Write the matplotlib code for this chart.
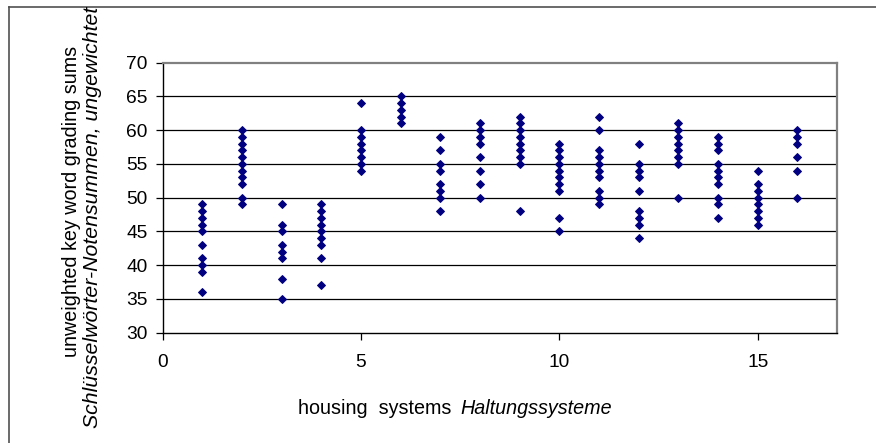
import matplotlib
matplotlib.use("Agg")
import matplotlib.pyplot as plt
from matplotlib.lines import Line2D
from matplotlib.offsetbox import TextArea, HPacker, AnnotationBbox

plt.rcParams['font.family'] = ['Liberation Sans', 'DejaVu Sans']

# housing system number -> grading sums observed
systems = list(range(1, 17))
sums = {
    1: [49, 48, 47, 46, 45, 43, 41, 40, 39, 36],
    2: [60, 59, 58, 57, 56, 55, 54, 53, 52, 50, 49],
    3: [49, 46, 45, 43, 42, 41, 38, 35],
    4: [49, 48, 47, 46, 45, 44, 43, 41, 37],
    5: [64, 60, 59, 58, 57, 56, 55, 54],
    6: [65, 64, 63, 62, 61],
    7: [59, 57, 55, 54, 52, 51, 50, 48],
    8: [61, 60, 59, 58, 56, 54, 52, 50],
    9: [62, 61, 60, 59, 58, 57, 56, 55, 48],
    10: [58, 57, 56, 55, 54, 53, 52, 51, 47, 45],
    11: [62, 60, 57, 56, 55, 54, 53, 51, 50, 49],
    12: [58, 55, 54, 53, 51, 48, 47, 46, 44],
    13: [61, 60, 59, 58, 57, 56, 55, 50],
    14: [59, 58, 57, 55, 54, 53, 52, 50, 49, 47],
    15: [54, 52, 51, 50, 49, 48, 47, 46],
    16: [60, 59, 58, 56, 54, 50],
}
x_ticks = [0, 5, 10, 15]
y_ticks = [30, 35, 40, 45, 50, 55, 60, 65, 70]

xs = [s for s in systems for _ in sums[s]]
ys = [v for s in systems for v in sums[s]]

W, H = 876, 443
fig = plt.figure(figsize=(W / 100, H / 100), dpi=100)
L, R, B, T = 162.7, 837, 332.7, 62.7
ax = fig.add_axes([L / W, (H - B) / H, (R - L) / W, (B - T) / H])

ax.set_xlim(0, 17)
ax.set_ylim(30, 70)
ax.set_xticks(x_ticks)
ax.set_yticks(y_ticks)
for y in y_ticks[1:-1]:
    ax.axhline(y, color='black', lw=0.9, zorder=1)

ax.plot(xs, ys, linestyle='none', marker='D', ms=3.7, mew=0.7,
        color='#000080', mec='#000080', zorder=3, clip_on=False)

for side in ['left', 'bottom']:
    ax.spines[side].set_color('black')
    ax.spines[side].set_linewidth(1.0)
for side in ['top', 'right']:
    ax.spines[side].set_color('#808080')
    ax.spines[side].set_linewidth(1.6)

ax.tick_params(axis='both', direction='out', length=5, width=0.9,
               labelsize=13.8, color='black')
ax.tick_params(axis='y', pad=6)
ax.tick_params(axis='x', pad=10)

# x label: normal + italic parts
xa = TextArea('housing  systems ', textprops=dict(fontsize=14.2))
xb = TextArea('Haltungssysteme', textprops=dict(fontsize=14.2, style='italic'))
pack = HPacker(children=[xa, xb], align='baseline', pad=0, sep=2)
ab = AnnotationBbox(pack, (455 / W, (H - 409) / H), xycoords='figure fraction',
                    frameon=False, box_alignment=(0.5, 0.5))
fig.add_artist(ab)

fig.text(72 / W, (H - 201) / H, 'unweighted key word grading sums',
         rotation=90, ha='center', va='center', fontsize=14.2)
fig.text(93 / W, (H - 217) / H, 'Schlüsselwörter-Notensummen, ungewichtet',
         rotation=90, ha='center', va='center', fontsize=15.3, style='italic')

# outer chart border (top and left visible)
fig.add_artist(Line2D([9 / W, 1], [(H - 7) / H, (H - 7) / H],
                      transform=fig.transFigure, color='#505050', lw=1.2))
fig.add_artist(Line2D([9 / W, 9 / W], [0, (H - 7) / H],
                      transform=fig.transFigure, color='#505050', lw=1.2))

fig.savefig('out.png', dpi=100, facecolor='white')
